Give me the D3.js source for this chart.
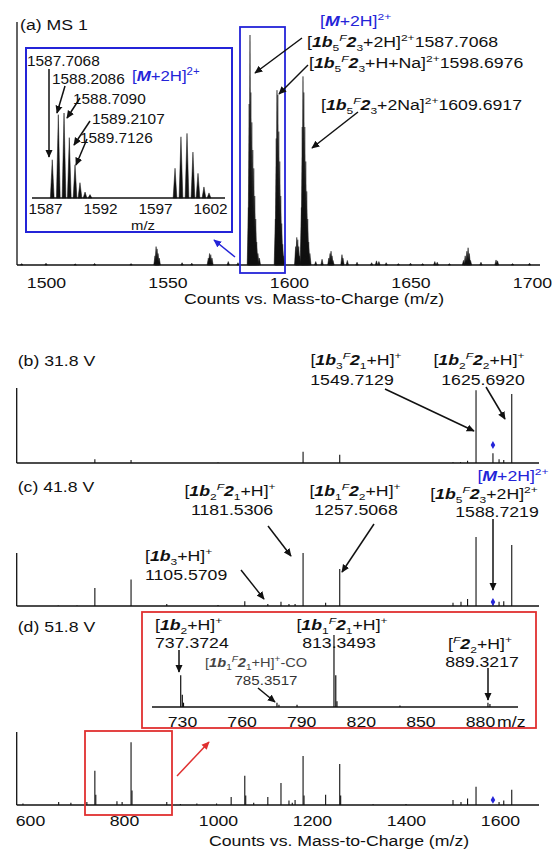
<!DOCTYPE html>
<html><head><meta charset="utf-8">
<script src="https://cdn.jsdelivr.net/npm/d3@7"></script>
<style>
html,body{margin:0;padding:0;background:#fff;}
svg{display:block;font-family:"Liberation Sans",Arial,sans-serif;}
</style></head>
<body><svg id="c" width="556" height="850"></svg>
<script>
// ---------------- DATA ----------------
// Panel (a) MS1, full view: [m/z, relative intensity %]
const msA = [
 [1490,0.6],[1500,0.8],[1512,0.5],[1520,0.7],[1535,0.6],[1544.85,4],[1545.3,8],[1545.7,7],[1546.1,5],[1546.6,3],
 [1556,1],[1560,0.8],[1566.8,3],[1567.3,5],[1567.8,4.5],[1568.3,3],[1575,1.5],[1579,1],
 [1583.3,25],[1583.6,70],[1583.95,100],[1584.3,75],[1584.7,62],[1585.1,50],[1585.5,42],[1585.9,30],[1586.3,20],[1586.7,10],[1587.2,5],[1587.8,3],
 [1594.4,20],[1594.75,55],[1595.06,76],[1595.4,74],[1595.8,58],[1596.2,45],[1596.6,30],[1597.0,18],[1597.4,9],[1597.9,4],
 [1602.75,8],[1603.2,12],[1603.6,11],[1604.0,8],[1604.4,4],
 [1605.1,25],[1605.45,60],[1605.76,82],[1606.1,75],[1606.5,60],[1606.9,45],[1607.3,32],[1607.7,20],[1608.1,10],[1608.6,5],
 [1611,1.5],[1613.6,2.5],[1616.4,3],[1616.9,5],[1617.3,6],[1617.7,4],[1618.1,2],[1621.8,4.5],[1622.2,3],[1624,2],[1628,1.2],
 [1634,1],[1636,1.8],[1637,1.5],[1640,1],[1645,0.6],[1650,0.8],[1655,0.6],[1660,1.5],[1661,1.2],[1666,0.6],
 [1671.8,2],[1672.5,4],[1673.2,6],[1673.7,7.5],[1674.2,5],[1674.7,2],[1679,1.2],[1685.2,2.2],[1685.8,1.8],[1692,0.6],[1699,0.8]
];
const ticksA = [1500,1550,1600,1650,1700];

// Panel (a) inset, [M+2H]2+ isotope clusters
const insetA = [
 [1587.66,45],[1588.21,98],[1588.73,100],[1589.21,71],[1589.73,39],[1590.18,18],[1590.64,7],[1591.09,4],
 [1598.82,35],[1599.36,72],[1599.91,76],[1600.45,54],[1600.91,29],[1601.45,13],[1601.91,6]
];
const ticksInsetA = [1587,1592,1597,1602];

// Panel (b) 31.8 V
const msB = [
 [738,5],[815,4],[1000,0.8],[1181,15],[1259,11],[1500,1],[1516,1.2],[1531,3],[1549,97],[1585,13],[1598,5],[1608,4],[1625,92]
];
// Panel (c) 41.8 V
const msC = [
 [660,1],[700,1],[738,34],[815,50],[891,4],[1000,2],[1057,9],[1106,4],[1134,8],[1151,4],[1164,4],[1181,100],
 [1229,6],[1259,70],[1500,6],[1517,8],[1531,13],[1549,130],[1585,6],[1598,8],[1608,9],[1625,115]
];
// Panel (d) 51.8 V
const msD = [
 [585,2],[661,4],[687,3],[721,4],[738,47],[740,14],[785,5],[796,4],[815,86],[817,20],[891,4],[920,1.5],[955,2],[997,2],
 [1028,11],[1057,40],[1059,13],[1076,3],[1106,11],[1134,30],[1151,6],[1158,3],[1164,7],[1181,67],[1183,13],
 [1229,14],[1259,56],[1261,13],[1330,1],[1400,1.2],[1500,7],[1517,4],[1531,9],[1549,25],[1598,4],[1608,6],[1625,21]
];
const ticksD = [600,800,1000,1200,1400,1600];
// Blue marker for [M+2H]2+ in (b),(c),(d): [m/z, intensity]
const markB = [1585,24], markC = [1585,7.5], markD = [1585,7];

// Panel (d) inset
const insetD = [
 [729.35,44],[730.15,17],[730.75,6],[777.8,6],[778.8,3],[787.9,3],[806.5,100],[807.4,44],[808.0,8],[839.7,2],[884.0,6],[885.0,4]
];
const ticksInsetD = [730,760,790,820,850,880];

// ---------------- DRAW ----------------
const svg = d3.select('#c');
svg.append('rect').attr('width',556).attr('height',850).attr('fill','#fff');
const BLUE = '#2424d8', RED = '#e03030', INK = '#111';
const SX = 1.22, FS = 14.5;

const defs = svg.append('defs');
function marker(id, col){
  defs.append('marker').attr('id',id).attr('viewBox','0 0 10 10').attr('refX',9).attr('refY',5)
   .attr('markerWidth',8).attr('markerHeight',8).attr('markerUnits','userSpaceOnUse').attr('orient','auto')
   .append('path').attr('d','M0,0.5 L10,5 L0,9.5 Z').attr('fill',col);
}
marker('ak',INK); marker('ab',BLUE); marker('ar',RED);
function arrow(x1,y1,x2,y2,col,id){
  svg.append('line').attr('x1',x1).attr('y1',y1).attr('x2',x2).attr('y2',y2)
    .attr('stroke',col||INK).attr('stroke-width',1.5).attr('marker-end',`url(#${id||'ak'})`);
}
// rich text with sub/superscripts, horizontally stretched like the original
function label(x,y,segs,o={}){
  const size=o.size||FS, sx=o.sx||SX;
  const g=svg.append('g').attr('transform',`translate(${x},${y}) scale(${sx},1)`);
  const t=g.append('text').attr('text-anchor',o.anchor||'start').attr('font-size',size).attr('fill',o.fill||INK);
  let cur=0;
  segs.forEach(s=>{
    if(typeof s==='string') s={t:s};
    const target = s.sub? size*0.28 : s.sup? -size*0.42 : 0;
    const ts=t.append('tspan').text(s.t).attr('dy',target-cur);
    cur=target;
    if(s.sub||s.sup) ts.attr('font-size',size*0.68);
    if(s.b) ts.attr('font-weight','bold');
    if(s.i) ts.attr('font-style','italic');
  });
  return t;
}
const BI=t=>({t,b:1,i:1}), sub=t=>({t,sub:1}), sup=t=>({t,sup:1}), supI=t=>({t,sup:1,i:1});

function styleAxis(g,size,sx){
  g.select('.domain').remove();
  g.selectAll('text').attr('font-size',size).attr('font-family','"Liberation Sans",Arial,sans-serif')
   .attr('fill',INK).attr('transform',`scale(${sx},1)`);
}
function hline(x1,x2,y,w){svg.append('line').attr('x1',x1).attr('x2',x2).attr('y1',y).attr('y2',y).attr('stroke',INK).attr('stroke-width',w||1.3);}
function vline(x,y1,y2,w){svg.append('line').attr('x1',x).attr('x2',x).attr('y1',y1).attr('y2',y2).attr('stroke',INK).attr('stroke-width',w||1.3);}
function triPeaks(data,x,y,hw){
  svg.append('g').selectAll('path').data(data).join('path')
    .attr('d',d=>`M${x(d[0]-hw)},${y(0)}L${x(d[0])},${y(d[1])}L${x(d[0]+hw)},${y(0)}Z`)
    .attr('fill',INK).attr('stroke',INK).attr('stroke-width',0.5).attr('stroke-linejoin','round');
}
function stickPeaks(data,x,y,w){
  svg.append('g').selectAll('line').data(data).join('line')
    .attr('x1',d=>x(d[0])).attr('x2',d=>x(d[0])).attr('y1',y(0)).attr('y2',d=>y(d[1]))
    .attr('stroke',INK).attr('stroke-width',w||1.1);
}
function diamond(x,y){
  svg.append('path').attr('d',d3.symbol(d3.symbolDiamond,18)()).attr('transform',`translate(${x},${y})`).attr('fill',BLUE);
}

// ===== Panel (a) =====
const xA=d3.scaleLinear().domain([1500,1700]).range([46,532]);
const yA=d3.scaleLinear().domain([0,100]).range([265,35]);
label(20,30,['(a) MS 1']);
vline(17,22,yA(0));
triPeaks(msA,xA,yA,0.5);
hline(17,540,yA(0),1.6);
const gA=svg.append('g').attr('transform',`translate(0,${yA(0)})`)
  .call(d3.axisBottom(xA).tickValues(ticksA).tickSize(0).tickPadding(12.7).tickFormat(d3.format('d')));
styleAxis(gA,FS,SX);
label(314,304,['Counts vs. Mass-to-Charge (m/z)'],{anchor:'middle'});

// blue selection box & arrow
svg.append('rect').attr('x',240).attr('y',27).attr('width',45).attr('height',246)
  .attr('fill','none').attr('stroke',BLUE).attr('stroke-width',1.8);
arrow(235,257,214,240,BLUE,'ab');

// labels on main panel (a)
label(320,26,['[',BI('M'),'+2H]',sup('2+')],{fill:BLUE});
label(307,47,['[',BI('1b'),sub('5'),supI('F'),BI('2'),sub('3'),'+2H]',sup('2+'),'1587.7068']);
label(309,68,['[',BI('1b'),sub('5'),supI('F'),BI('2'),sub('3'),'+H+Na]',sup('2+'),'1598.6976']);
label(321,110,['[',BI('1b'),sub('5'),supI('F'),BI('2'),sub('3'),'+2Na]',sup('2+'),'1609.6917']);
arrow(302,38,255,73); arrow(308,65,279,94); arrow(358,112,312,148);

// inset (a)
svg.append('rect').attr('x',26).attr('y',48).attr('width',206).attr('height',184)
  .attr('fill','#fff').attr('stroke',BLUE).attr('stroke-width',2);
const xIa=d3.scaleLinear().domain([1587,1602]).range([45,210]);
const yIa=d3.scaleLinear().domain([0,100]).range([198,113]);
triPeaks(insetA,xIa,yIa,0.17);
hline(32,225,yIa(0),1.6);
const gIa=svg.append('g').attr('transform',`translate(0,${yIa(0)})`)
  .call(d3.axisBottom(xIa).tickValues(ticksInsetA).tickSize(0).tickPadding(6.3).tickFormat(d3.format('d')));
styleAxis(gIa,14,1.1);
label(143,229.5,['m/z'],{anchor:'middle',size:13.5,sx:1.1});
label(27,66,['1587.7068'],{size:14,sx:1.1});
label(52,84,['1588.2086'],{size:14,sx:1.1});
label(73,104,['1588.7090'],{size:14,sx:1.1});
label(92,124,['1589.2107'],{size:14,sx:1.1});
label(80,143,['1589.7126'],{size:14,sx:1.1});
label(132,81,['[',BI('M'),'+2H]',sup('2+')],{fill:BLUE,size:15,sx:1.12});
arrow(49,69,49,157); arrow(65,86,57,113); arrow(80,98,67,118); arrow(90,121,74,145); arrow(87,139,76,165);

// ===== shared x scale for (b)(c)(d) =====
const xM=d3.scaleLinear().domain([600,1600]).range([30,500]);
const XL=16.7, XR=539;

// ===== Panel (b) =====
const yB=d3.scaleLinear().domain([0,100]).range([463,388]);
label(17.7,366,['(b) 31.8 V']);
vline(XL,yB(100),yB(0));
stickPeaks(msB,xM,yB);
hline(XL,XR,yB(0));
diamond(xM(markB[0]),yB(markB[1]));
label(356,365,['[',BI('1b'),sub('3'),supI('F'),BI('2'),sub('1'),'+H]',sup('+')],{anchor:'middle'});
label(352,385,['1549.7129'],{anchor:'middle'});
label(479,365,['[',BI('1b'),sub('2'),supI('F'),BI('2'),sub('2'),'+H]',sup('+')],{anchor:'middle'});
label(483,385,['1625.6920'],{anchor:'middle'});
arrow(385,389,474,431); arrow(486,387,505,419);

// ===== Panel (c) =====
const yC=d3.scaleLinear().domain([0,100]).range([606,553]);
label(17.7,492,['(c) 41.8 V']);
vline(XL,yC(100),yC(0));
stickPeaks(msC,xM,yC);
hline(XL,XR,yC(0));
diamond(xM(markC[0]),yC(markC[1]));
label(513,481,['[',BI('M'),'+2H]',sup('2+')],{anchor:'middle',fill:BLUE});
label(484,499,['[',BI('1b'),sub('5'),supI('F'),BI('2'),sub('3'),'+2H]',sup('2+')],{anchor:'middle'});
label(497,517,['1588.7219'],{anchor:'middle'});
label(230,496,['[',BI('1b'),sub('2'),supI('F'),BI('2'),sub('1'),'+H]',sup('+')],{anchor:'middle'});
label(232,515,['1181.5306'],{anchor:'middle'});
label(355,496,['[',BI('1b'),sub('1'),supI('F'),BI('2'),sub('2'),'+H]',sup('+')],{anchor:'middle'});
label(356,515,['1257.5068'],{anchor:'middle'});
label(145,561,['[',BI('1b'),sub('3'),'+H]',sup('+')]);
label(145,580,['1105.5709']);
arrow(268,526,291,556); arrow(374,524,342,572); arrow(241,570,264,599); arrow(493,519,493,590);

// ===== Panel (d) =====
const yD=d3.scaleLinear().domain([0,100]).range([805,732]);
label(17.7,632,['(d) 51.8 V']);
vline(XL,yD(100),yD(0));
stickPeaks(msD,xM,yD);
hline(XL,XR,yD(0));
diamond(xM(markD[0]),yD(markD[1]));
const gD=svg.append('g').attr('transform',`translate(0,${yD(0)})`)
  .call(d3.axisBottom(xM).tickValues(ticksD).tickSize(0).tickPadding(10.7).tickFormat(d3.format('d')));
styleAxis(gD,FS,SX);
label(339,846,['Counts vs. Mass-to-Charge (m/z)'],{anchor:'middle'});
svg.append('rect').attr('x',85).attr('y',731).attr('width',87).attr('height',84)
  .attr('fill','none').attr('stroke',RED).attr('stroke-width',1.8);
arrow(177,776,209,742,RED,'ar');

// inset (d)
svg.append('rect').attr('x',142).attr('y',612).attr('width',394).attr('height',116)
  .attr('fill','#fff').attr('stroke',RED).attr('stroke-width',1.8);
const xId=d3.scaleLinear().domain([730,880]).range([182,480]);
const yId=d3.scaleLinear().domain([0,100]).range([707,635]);
stickPeaks(insetD,xId,yId,1.2);
hline(152,518,yId(0),1.6);
const gId=svg.append('g').attr('transform',`translate(0,${yId(0)})`)
  .call(d3.axisBottom(xId).tickValues(ticksInsetD).tickSize(0).tickPadding(9.7).tickFormat(d3.format('d')));
styleAxis(gId,FS,SX);
label(497,727,['m/z']);
label(155,630,['[',BI('1b'),sub('2'),'+H]',sup('+')]);
label(155,648,['737.3724']);
arrow(179,650,179,672);
label(205,667,['[',BI('1b'),sub('1'),supI('F'),BI('2'),sub('1'),'+H]',sup('+'),'-CO'],{size:12,fill:'#444'});
label(266,685,['785.3517'],{size:12.4,fill:'#333',anchor:'middle'});
arrow(258,688,275,702);
label(342,630,['[',BI('1b'),sub('1'),supI('F'),BI('2'),sub('1'),'+H]',sup('+')],{anchor:'middle'});
label(339,648,['813.3493'],{anchor:'middle'});
label(480,649,['[',supI('F'),BI('2'),sub('2'),'+H]',sup('+')],{anchor:'middle'});
label(482,667,['889.3217'],{anchor:'middle'});
arrow(488,668,488,700);
</script></body></html>
